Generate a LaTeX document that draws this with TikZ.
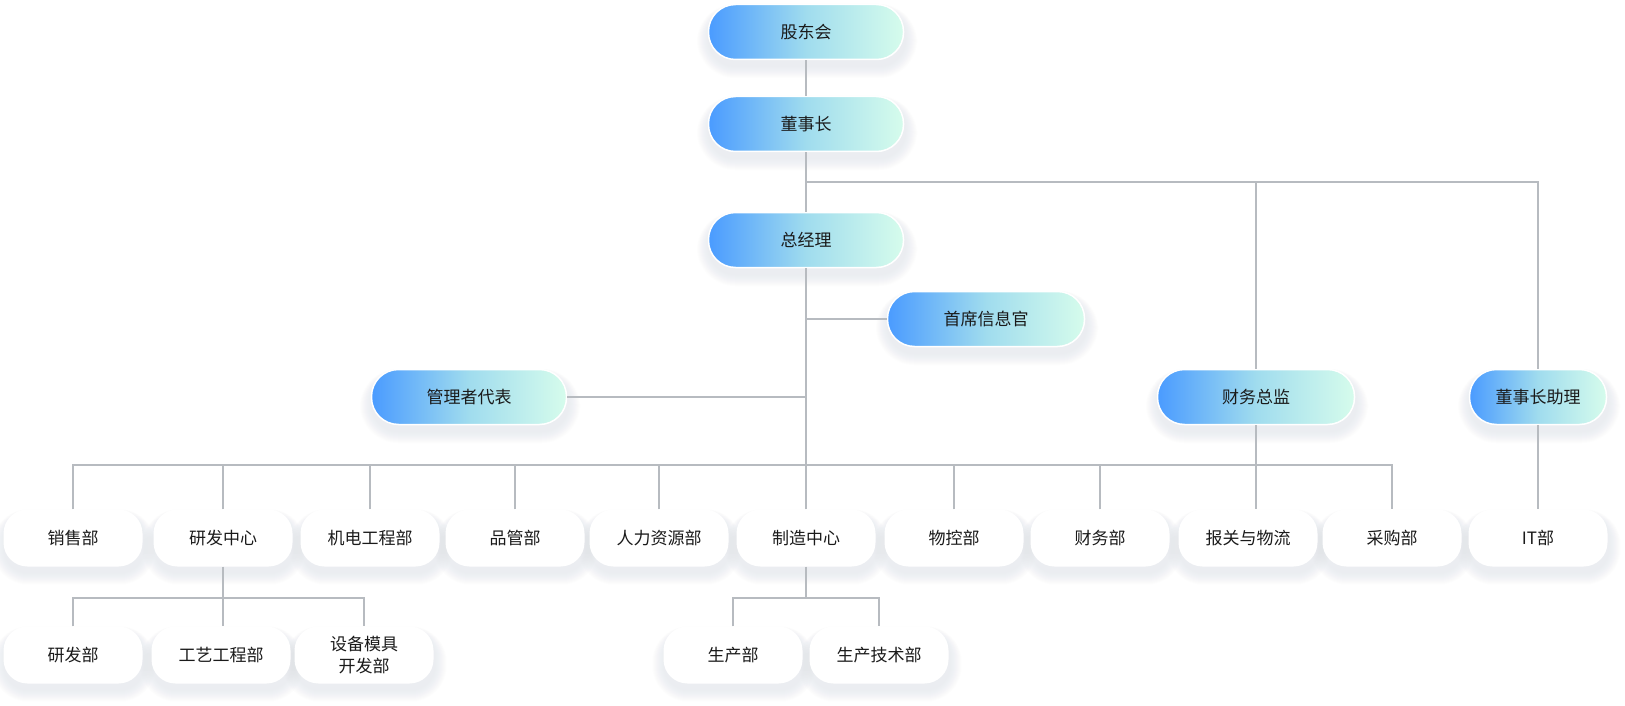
\documentclass[tikz,border=0pt]{standalone}
\usepackage{fontspec}
\setmainfont{Noto Sans CJK SC}
\pgfdeclarelayer{shadow}
\pgfsetlayers{shadow,main}
\definecolor{lineg}{HTML}{B7BBC0}
\definecolor{gblue}{HTML}{4A9BFF}
\definecolor{gmid}{HTML}{A0DCEE}
\definecolor{gmint}{HTML}{D6FCEC}
\definecolor{txt}{HTML}{1A1A1A}
\definecolor{shd}{HTML}{9A9FA6}

% soft shadow under a named node: name, corner radius
\newcommand\softshadow[2]{
        \foreach \k in {1,...,12}
          \fill [shd, opacity=0.011, rounded corners=#2+\k]
            ([shift={(1-\k,6-\k/2)}]#1.north west) rectangle ([shift={(1+\k,6+\k)}]#1.south east);
}

\begin{document}
\begin{tikzpicture}[x=1pt, y=-1pt,
        lead/.style={rounded corners=27pt, minimum width=195pt, minimum height=55pt,
          left color=gblue, right color=gmint, middle color=gmid,
          draw=white, line width=1.5pt, text=txt, font=\fontsize{17}{22}\selectfont},
        dept/.style={rounded corners=24pt, minimum width=139pt, minimum height=57pt,
          fill=white, text=txt, align=center, font=\fontsize{17}{22}\selectfont},
        link/.style={draw=lineg, line width=2pt}
        ]
        \useasboundingbox (0,0) rectangle (1625,706);
        % leaders
        \node [lead] (gd) at (806,32) {股东会};
        \node [lead] (dsz) at (806,124) {董事长};
        \node [lead] (zjl) at (806,240) {总经理};
        \node [lead, minimum width=197pt] (cio) at (986,319) {首席信息官};
        \node [lead] (glz) at (469,397) {管理者代表};
        \node [lead, minimum width=197pt] (cfo) at (1256,397) {财务总监};
        \node [lead, minimum width=137pt] (zl) at (1538,397) {董事长助理};
        % departments
        \node [dept] (xs) at (73,538) {销售部};
        \node [dept] (yfzx) at (223,538) {研发中心};
        \node [dept] (jd) at (370,538) {机电工程部};
        \node [dept] (pg) at (515,538) {品管部};
        \node [dept] (rl) at (659,538) {人力资源部};
        \node [dept] (zz) at (806,538) {制造中心};
        \node [dept] (wk) at (954,538) {物控部};
        \node [dept] (cw) at (1100,538) {财务部};
        \node [dept] (bg) at (1248,538) {报关与物流};
        \node [dept] (cg) at (1392,538) {采购部};
        \node [dept] (it) at (1538,538) {IT部};
        \node [dept] (yfb) at (73,655) {研发部};
        \node [dept] (gy) at (221,655) {工艺工程部};
        \node [dept] (sb) at (364,655) {设备模具\\开发部};
        \node [dept] (sc) at (733,655) {生产部};
        \node [dept] (js) at (879,655) {生产技术部};
        \begin{pgfonlayer}{shadow}
          \fill [white] (0,0) rectangle (1625,706);
          \foreach \n in {gd,dsz,zjl,cio,glz,cfo,zl}
            \softshadow{\n}{27};
          \foreach \n in {xs,yfzx,jd,pg,rl,zz,wk,cw,bg,cg,it,yfb,gy,sb,sc,js}
            \softshadow{\n}{24};
        \end{pgfonlayer}
        \coordinate (hy) at (0,182);
        \coordinate (bus) at (0,465);
        \coordinate (sub) at (0,598);
        % connectors
        \draw [link] (gd) -- (dsz);
        \draw [link] (dsz) -- (zjl);
        \draw [link] (dsz |- hy) -| (zl.north);
        \draw [link] (cfo |- hy) -- (cfo.north);
        \draw [link] (zjl.south) -- (zjl |- bus);
        \draw [link] (zjl |- cio) -- (cio.west);
        \draw [link] (glz.east) -- (zjl |- glz);
        \draw [link] (xs.north) |- (zjl |- bus) -| (cg.north);
        \foreach \d in {yfzx,jd,pg,rl,zz,wk,cw}
          \draw [link] (\d.north) -- (\d |- bus);
        \draw [link] (cfo.south) -- (cfo |- bg.north);
        \draw [link] (zl.south) -- (it.north);
        \draw [link] (yfzx.south) -- (yfzx |- sub);
        \draw [link] (yfb.north) |- (yfzx |- sub) -| (sb.north);
        \draw [link] (yfzx |- sub) -- (yfzx |- gy.north);
        \draw [link] (zz.south) -- (zz |- sub);
        \draw [link] (sc.north) |- (zz |- sub) -| (js.north);
      \end{tikzpicture}
\end{document}
